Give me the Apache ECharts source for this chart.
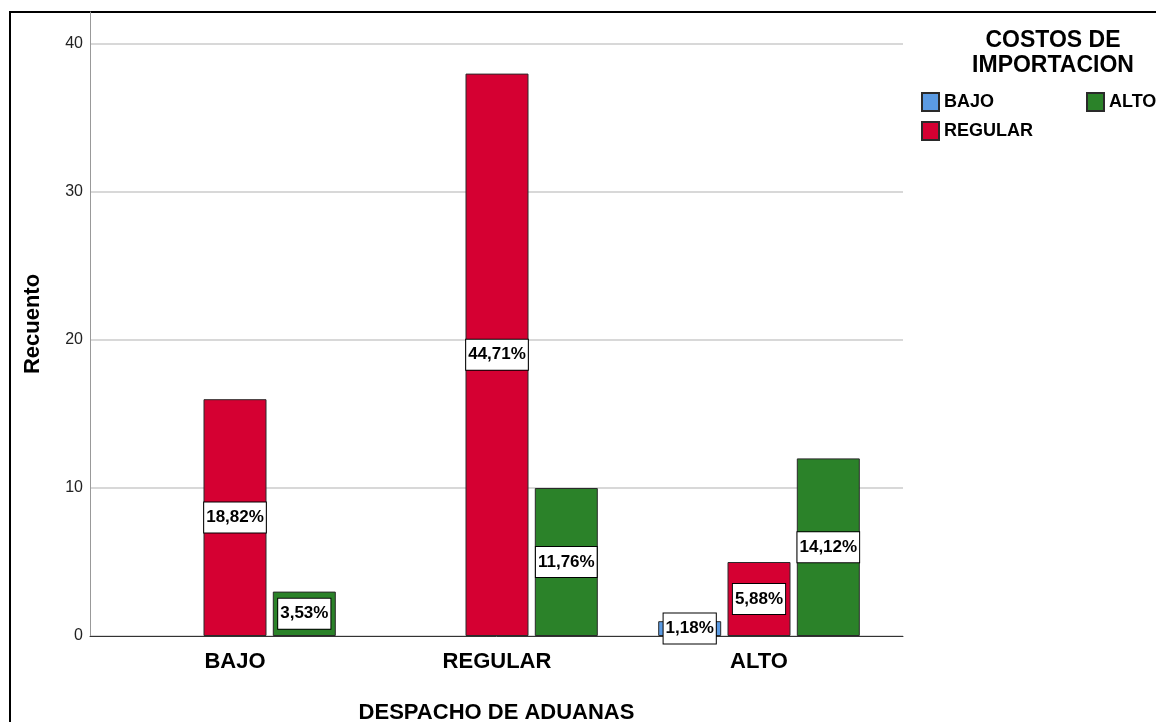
<!DOCTYPE html>
<html>
<head>
<meta charset="utf-8">
<style>
  html, body { margin: 0; padding: 0; background: #fff; }
  #chart { width: 1156px; height: 722px; }
</style>
<script src="https://cdn.jsdelivr.net/npm/echarts@6/dist/echarts.min.js"></script>
</head>
<body>
<div id="chart"></div>
<script>
// categorias del eje X (DESPACHO DE ADUANAS)
const categories = ['BAJO', 'REGULAR', 'ALTO']
// series (COSTOS DE IMPORTACION)
const seriesNames = ['BAJO', 'REGULAR', 'ALTO']
const bajoValues = [0, 0, 1]
const regularValues = [16, 38, 5]
const altoValues = [3, 10, 12]
const totalCount = 85
const yTicks = [0, 10, 20, 30, 40]

const colors = ['#5B9BE3', '#D50032', '#2B8229']
const sans = '"Liberation Sans", Arial, sans-serif'

const chart = echarts.init(document.getElementById('chart'))

function pct (v) {
  return (v / totalCount * 100).toFixed(2).replace('.', ',') + '%'
}

function makeSeries (name, values, idx) {
  return {
    type: 'bar',
    name: name,
    xAxisIndex: 2,
    yAxisIndex: 2,
    barWidth: 63,
    barGap: '10%',
    data: values.map(v => (v === 0 ? '-' : v)),
    itemStyle: { color: colors[idx], borderColor: '#2a2a2a', borderWidth: 1 },
    label: {
      show: true,
      position: 'inside',
      formatter: p => pct(p.value),
      color: '#000',
      fontFamily: sans,
      fontWeight: 'bold',
      fontSize: 17,
      lineHeight: 19,
      backgroundColor: '#fff',
      borderColor: '#000',
      borderWidth: 1,
      padding: [6, 2, 5, 2]
    },
    emphasis: { disabled: true }
  }
}

const option = {
  backgroundColor: '#fff',
  animation: false,
  title: {
    text: 'COSTOS DE\nIMPORTACION',
    left: 1048,
    top: 23,
    textAlign: 'center',
    textStyle: { fontFamily: sans, fontSize: 23, fontWeight: 'bold', lineHeight: 25, color: '#000' }
  },
  legend: [
    {
      data: [seriesNames[0], seriesNames[1]],
      orient: 'vertical',
      left: 916,
      top: 87,
      itemWidth: 17,
      itemHeight: 18,
      itemGap: 9,
      icon: 'rect',
      selectedMode: false,
      textStyle: { fontFamily: sans, fontWeight: 'bold', fontSize: 18, color: '#000' }
    },
    {
      data: [seriesNames[2]],
      orient: 'vertical',
      left: 1081,
      top: 87,
      itemWidth: 17,
      itemHeight: 18,
      icon: 'rect',
      selectedMode: false,
      textStyle: { fontFamily: sans, fontWeight: 'bold', fontSize: 18, color: '#000' }
    }
  ],
  grid: [
    { left: 90, right: 253, top: 44, bottom: 86, outerBoundsMode: 'none' },
    { left: 90, right: 253, top: 12, bottom: 86, outerBoundsMode: 'none' },
    { left: 104, right: 266, top: 44, bottom: 86, outerBoundsMode: 'none' }
  ],
  xAxis: [
    {
      gridIndex: 0,
      type: 'category',
      data: categories,
      name: 'DESPACHO DE ADUANAS',
      nameLocation: 'middle',
      nameGap: 66,
      nameTextStyle: { fontFamily: sans, fontSize: 22, fontWeight: 'bold', color: '#000' },
      axisLine: { lineStyle: { color: '#333', width: 1 } },
      axisTick: { show: false },
      axisLabel: { show: false },
      splitLine: { show: false }
    },
    {
      gridIndex: 1,
      type: 'category',
      data: categories,
      show: false
    },
    {
      gridIndex: 2,
      type: 'category',
      data: categories,
      axisLine: { show: false },
      axisTick: { show: false },
      axisLabel: { fontFamily: sans, fontSize: 22, fontWeight: 'bold', color: '#000', margin: 15 },
      splitLine: { show: false }
    }
  ],
  yAxis: [
    {
      gridIndex: 0,
      type: 'value',
      min: yTicks[0],
      max: yTicks[yTicks.length - 1],
      interval: 10,
      axisLine: { show: false },
      axisTick: { show: false },
      axisLabel: { fontFamily: sans, fontSize: 16, color: '#222', margin: 7 },
      splitLine: { lineStyle: { color: '#d8d8d8', width: 2 } }
    },
    {
      gridIndex: 1,
      type: 'value',
      min: 0,
      max: 42,
      name: 'Recuento',
      nameLocation: 'middle',
      nameGap: 46,
      nameTextStyle: { fontFamily: sans, fontSize: 22, fontWeight: 'bold', color: '#000' },
      axisLine: { show: true, lineStyle: { color: '#999', width: 1 } },
      axisTick: { show: false },
      axisLabel: { show: false },
      splitLine: { show: false }
    },
    {
      gridIndex: 2,
      type: 'value',
      min: yTicks[0],
      max: yTicks[yTicks.length - 1],
      interval: 10,
      show: false
    }
  ],
  graphic: [
    {
      type: 'rect',
      shape: { x: 10, y: 12, width: 1300, height: 900 },
      style: { fill: 'none', stroke: '#000', lineWidth: 2 },
      silent: true
    }
  ],
  series: [
    makeSeries(seriesNames[0], bajoValues, 0),
    makeSeries(seriesNames[1], regularValues, 1),
    makeSeries(seriesNames[2], altoValues, 2)
  ]
}

chart.setOption(option)
</script>
</body>
</html>
